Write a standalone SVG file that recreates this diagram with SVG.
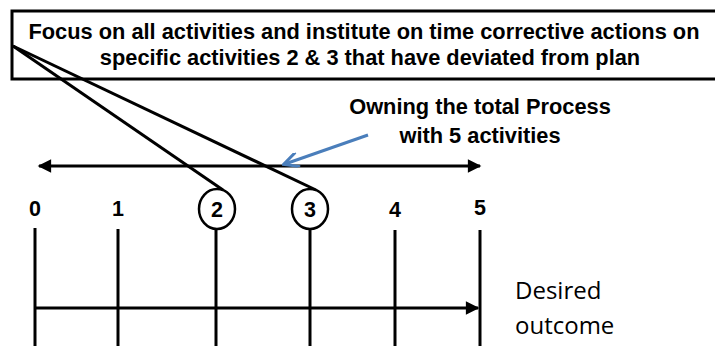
<svg xmlns="http://www.w3.org/2000/svg" width="715" height="346" viewBox="0 0 715 346">
<style>
.b{font-family:"Liberation Sans",Arial,sans-serif;font-weight:bold;font-size:21.8px;fill:#000;text-anchor:middle}
.n{font-family:"Liberation Sans",Arial,sans-serif;font-weight:bold;font-size:21.5px;fill:#000;text-anchor:middle}
.r{font-family:"Open Sans","Noto Sans",sans-serif;font-size:24px;fill:#000}
.ln{stroke:#000;stroke-width:3;fill:none}
</style>
<defs>
<marker id="ah" viewBox="0 0 10 10" refX="9" refY="5" markerWidth="5" markerHeight="4.5" orient="auto-start-reverse" markerUnits="strokeWidth">
<path d="M0,0L10,5L0,10z" fill="#000"/>
</marker>
<marker id="bh" viewBox="0 0 10 10" refX="9" refY="5" markerWidth="6" markerHeight="5" orient="auto" markerUnits="strokeWidth">
<path d="M0,0L10,5L0,10" fill="none" stroke="#4a7ebb" stroke-width="2"/>
</marker>
</defs>
<g id="header">
<rect x="12" y="11" width="712" height="68" fill="#fff" stroke="#000" stroke-width="3"/>
<text class="b" x="364" y="39">Focus on all activities and institute on time corrective actions on</text>
<text class="b" x="370" y="65">specific activities 2 &amp; 3 that have deviated from plan</text>
</g>
<g id="process-label">
<text class="b" x="480" y="114">Owning the total Process</text>
<text class="b" x="480" y="143">with 5 activities</text>
</g>
<g id="ticks">
<text class="n" x="35" y="216">0</text>
<text class="n" x="118" y="216">1</text>
<text class="n" x="395" y="217">4</text>
<text class="n" x="480" y="215">5</text>
</g>
<g id="act2">
<ellipse cx="217" cy="209" rx="18" ry="20" fill="#fff" stroke="#000" stroke-width="2.5"/>
<text class="n" x="217" y="217">2</text>
</g>
<g id="act3">
<ellipse cx="310" cy="209" rx="18" ry="20" fill="#fff" stroke="#000" stroke-width="2.5"/>
<text class="n" x="310" y="217">3</text>
</g>
<g id="outcome">
<text class="r" x="515" y="299">Desired</text>
<text class="r" x="515" y="334">outcome</text>
</g>
<g id="connectors">
<line class="ln" x1="13" y1="46" x2="223" y2="190"/>
<line class="ln" x1="13" y1="46" x2="316" y2="190"/>
<line class="ln" x1="39" y1="166" x2="480" y2="166" marker-start="url(#ah)" marker-end="url(#ah)"/>
<line x1="368" y1="135" x2="285" y2="164" stroke="#4a7ebb" stroke-width="3" marker-end="url(#bh)"/>
<line class="ln" x1="35" y1="228" x2="35" y2="346"/>
<line class="ln" x1="118" y1="229" x2="118" y2="346"/>
<line class="ln" x1="216" y1="229" x2="216" y2="346"/>
<line class="ln" x1="310" y1="229" x2="310" y2="346"/>
<line class="ln" x1="395" y1="230" x2="395" y2="346"/>
<line class="ln" x1="480" y1="230" x2="480" y2="346"/>
<line class="ln" x1="35" y1="308" x2="478" y2="308" marker-end="url(#ah)"/>
</g>
</svg>
